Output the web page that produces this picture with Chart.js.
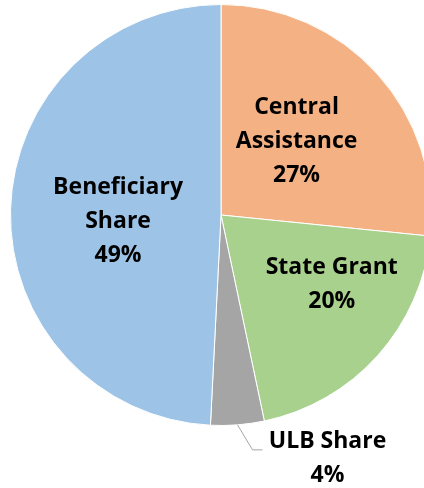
<!DOCTYPE html>
<html>
<head>
<meta charset="utf-8">
<script src="https://cdn.jsdelivr.net/npm/chart.js@4"></script>
<style>
  html, body { margin: 0; padding: 0; background: #fff; overflow: hidden; }
  #wrap { width: 442px; height: 488px; }
</style>
</head>
<body>
<div id="wrap"><canvas id="chartShare"></canvas></div>
<script>
const LABELS = ["Central Assistance", "State Grant", "ULB Share", "Beneficiary Share"];
const LABEL_LINES = [["Central", "Assistance"], ["State Grant"], ["ULB Share"], ["Beneficiary", "Share"]];
// slice sizes; the printed labels are the rounded values
const SHARES = [26.6, 20.1, 4.1, 49.2];
const SHARE_TEXT = ["27%", "20%", "4%", "49%"];

const SLICE_COLORS = ["#F4B183", "#A9D18E", "#A5A5A5", "#9DC3E6"];

// where each label sits: fraction of radius and angle nudge (deg), or outside with a leader
const LABEL_PLACE = [
  { r: 0.5, da: -2 },
  { r: 0.62, da: -10 },
  { outside: true },
  { r: 0.49, da: -5 },
];

const FONT = "bold 23px 'Open Sans', 'DejaVu Sans', sans-serif";
const LINE_H = 34;

const sliceLabels = {
  id: "sliceLabels",
  afterDatasetsDraw(chart) {
    const ctx = chart.ctx;
    const meta = chart.getDatasetMeta(0);
    ctx.save();
    ctx.font = FONT;
    ctx.fillStyle = "#000";
    ctx.textBaseline = "middle";
    meta.data.forEach((arc, i) => {
      const lines = LABEL_LINES[i].concat([SHARE_TEXT[i]]);
      const place = LABEL_PLACE[i];
      const mid = (arc.startAngle + arc.endAngle) / 2;
      if (place.outside) {
        const sx = arc.x + Math.cos(mid) * arc.outerRadius;
        const sy = arc.y + Math.sin(mid) * arc.outerRadius;
        const ex = sx + 15, ey = sy + 25;
        ctx.strokeStyle = "#A5A5A5";
        ctx.lineWidth = 1;
        ctx.beginPath();
        ctx.moveTo(sx, sy);
        ctx.lineTo(ex, ey);
        ctx.lineTo(ex + 10, ey);
        ctx.stroke();
        ctx.textAlign = "center";
        const cx = ex + 75;
        lines.forEach((t, k) => ctx.fillText(t, cx, ey - 8 + k * LINE_H));
        return;
      }
      const a = mid + place.da * Math.PI / 180;
      const cx = arc.x + Math.cos(a) * arc.outerRadius * place.r;
      const cy = arc.y + Math.sin(a) * arc.outerRadius * place.r;
      ctx.textAlign = "center";
      const top = cy - ((lines.length - 1) * LINE_H) / 2;
      lines.forEach((t, k) => ctx.fillText(t, cx, top + k * LINE_H));
    });
    ctx.restore();
  },
};

new Chart(document.getElementById("chartShare"), {
  type: "pie",
  data: {
    labels: LABELS,
    datasets: [
      {
        data: SHARES,
        backgroundColor: SLICE_COLORS,
        borderColor: "#ffffff",
        borderWidth: 1,
      },
    ],
  },
  options: {
    responsive: true,
    maintainAspectRatio: false,
    animation: false,
    layout: { padding: { left: 10, right: 10, top: 4, bottom: 62 } },
    plugins: {
      legend: { display: false },
      tooltip: { enabled: false },
    },
  },
  plugins: [sliceLabels],
});
</script>
</body>
</html>
